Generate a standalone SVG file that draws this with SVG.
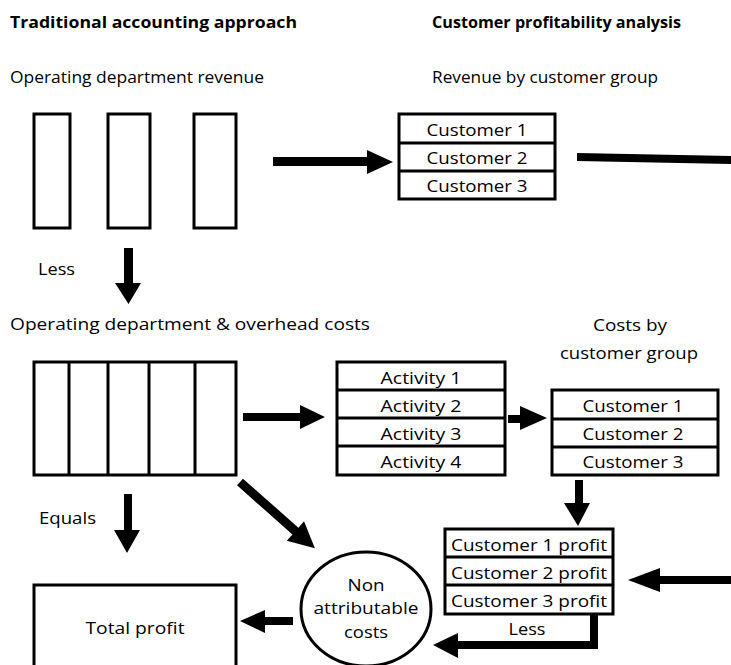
<svg xmlns="http://www.w3.org/2000/svg" width="731" height="665" viewBox="0 0 731 665">
<style>
text{font-family:"Open Sans","Liberation Sans",sans-serif;font-size:16px;fill:#000}
.b{font-weight:bold}
.c{text-anchor:middle}
.t{font-size:17px}
.box{fill:#fff;stroke:#000;stroke-width:3}
.ln{stroke:#000;stroke-width:3}
.arr{fill:#000;stroke:none}
</style>
<rect width="731" height="665" fill="#fff"/>
<g id="labels">
<text class="b" x="10" y="28" textLength="287" lengthAdjust="spacingAndGlyphs">Traditional accounting approach</text>
<text class="b" x="432" y="28" textLength="249" lengthAdjust="spacingAndGlyphs">Customer profitability analysis</text>
<text x="10" y="83" textLength="254" lengthAdjust="spacingAndGlyphs">Operating department revenue</text>
<text x="432" y="83" textLength="226" lengthAdjust="spacingAndGlyphs">Revenue by customer group</text>
<text x="38" y="275" textLength="37" lengthAdjust="spacingAndGlyphs">Less</text>
<text x="10" y="330" textLength="360" lengthAdjust="spacingAndGlyphs">Operating department &amp; overhead costs</text>
<text class="c" x="630" y="331" textLength="74" lengthAdjust="spacingAndGlyphs">Costs by</text>
<text class="c" x="629" y="359" textLength="138" lengthAdjust="spacingAndGlyphs">customer group</text>
<text x="39" y="524" textLength="57" lengthAdjust="spacingAndGlyphs">Equals</text>
<text class="c" x="527" y="635" textLength="37" lengthAdjust="spacingAndGlyphs">Less</text>
</g>
<g id="revenue-departments">
<rect class="box" x="34" y="114" width="36" height="114"/>
<rect class="box" x="108" y="114" width="42" height="114"/>
<rect class="box" x="194" y="114" width="42" height="114"/>
</g>
<g id="revenue-customers">
<rect class="box" x="399" y="114" width="156" height="85"/>
<line class="ln" x1="399" y1="143" x2="555" y2="143"/>
<line class="ln" x1="399" y1="171" x2="555" y2="171"/>
<text class="c t" x="477" y="136" textLength="101" lengthAdjust="spacingAndGlyphs">Customer 1</text>
<text class="c t" x="477" y="164" textLength="101" lengthAdjust="spacingAndGlyphs">Customer 2</text>
<text class="c t" x="477" y="192" textLength="101" lengthAdjust="spacingAndGlyphs">Customer 3</text>
</g>
<g id="costs-departments">
<rect class="box" x="34" y="362" width="202" height="113"/>
<line class="ln" x1="69" y1="362" x2="69" y2="475"/>
<line class="ln" x1="108" y1="362" x2="108" y2="475"/>
<line class="ln" x1="149" y1="362" x2="149" y2="475"/>
<line class="ln" x1="195" y1="362" x2="195" y2="475"/>
</g>
<g id="activities">
<rect class="box" x="337" y="362" width="168" height="113"/>
<line class="ln" x1="337" y1="390" x2="505" y2="390"/>
<line class="ln" x1="337" y1="418" x2="505" y2="418"/>
<line class="ln" x1="337" y1="446" x2="505" y2="446"/>
<text class="c t" x="421" y="384" textLength="81" lengthAdjust="spacingAndGlyphs">Activity 1</text>
<text class="c t" x="421" y="412" textLength="81" lengthAdjust="spacingAndGlyphs">Activity 2</text>
<text class="c t" x="421" y="440" textLength="81" lengthAdjust="spacingAndGlyphs">Activity 3</text>
<text class="c t" x="421" y="468" textLength="81" lengthAdjust="spacingAndGlyphs">Activity 4</text>
</g>
<g id="cost-customers">
<rect class="box" x="552" y="390" width="166" height="85"/>
<line class="ln" x1="552" y1="419" x2="718" y2="419"/>
<line class="ln" x1="552" y1="447" x2="718" y2="447"/>
<text class="c t" x="633" y="412" textLength="101" lengthAdjust="spacingAndGlyphs">Customer 1</text>
<text class="c t" x="633" y="440" textLength="101" lengthAdjust="spacingAndGlyphs">Customer 2</text>
<text class="c t" x="633" y="468" textLength="101" lengthAdjust="spacingAndGlyphs">Customer 3</text>
</g>
<g id="customer-profit">
<rect class="box" x="445" y="529" width="168" height="85"/>
<line class="ln" x1="445" y1="557" x2="613" y2="557"/>
<line class="ln" x1="445" y1="585" x2="613" y2="585"/>
<text class="c t" x="529" y="551" textLength="156" lengthAdjust="spacingAndGlyphs">Customer 1 profit</text>
<text class="c t" x="529" y="579" textLength="156" lengthAdjust="spacingAndGlyphs">Customer 2 profit</text>
<text class="c t" x="529" y="607" textLength="156" lengthAdjust="spacingAndGlyphs">Customer 3 profit</text>
</g>
<g id="non-attributable">
<ellipse class="box" cx="366" cy="609" rx="65" ry="57"/>
<text class="c t" x="366" y="591" textLength="37" lengthAdjust="spacingAndGlyphs">Non</text>
<text class="c t" x="366" y="614" textLength="105" lengthAdjust="spacingAndGlyphs">attributable</text>
<text class="c t" x="366" y="638" textLength="44" lengthAdjust="spacingAndGlyphs">costs</text>
</g>
<g id="total-profit">
<rect class="box" x="34" y="585" width="202" height="90"/>
<text class="c t" x="135" y="634" textLength="99" lengthAdjust="spacingAndGlyphs">Total profit</text>
</g>
<g id="connectors">
<polygon class="arr" points="124,248 133,248 133,283 141,283 128.5,304 115,283 124,283"/>
<polygon class="arr" points="273,157 367,157 367,150 393,162 367,174 367,166 273,166"/>
<polygon class="arr" points="577,153 731,156 731,164 577,161"/>
<polygon class="arr" points="243,413 300,413 300,405 325,417 300,429 300,421 243,421"/>
<polygon class="arr" points="508,415 520,415 520,406 547,418 520,430 520,423 508,423"/>
<polygon class="arr" points="575,480 583,480 583,503 590,503 578,526 564,503 575,503"/>
<polygon class="arr" points="124,494 132,494 132,530 140,530 127,553 114,530 124,530"/>
<polygon class="arr" points="0,-4.5 74,-4.5 74,-13 100,0 74,13 74,4.5 0,4.5" transform="translate(240,482) rotate(41.5)"/>
<polygon class="arr" points="293,617 265,617 265,610 240,621 265,633 265,625 293,625"/>
<polygon class="arr" points="731,576 660,576 660,568 628,580 660,592 660,584 731,584"/>
<polygon class="arr" points="590,614 598,614 598,649 458,649 458,658 433,645 458,633 458,641 590,641"/>
</g>
</svg>
